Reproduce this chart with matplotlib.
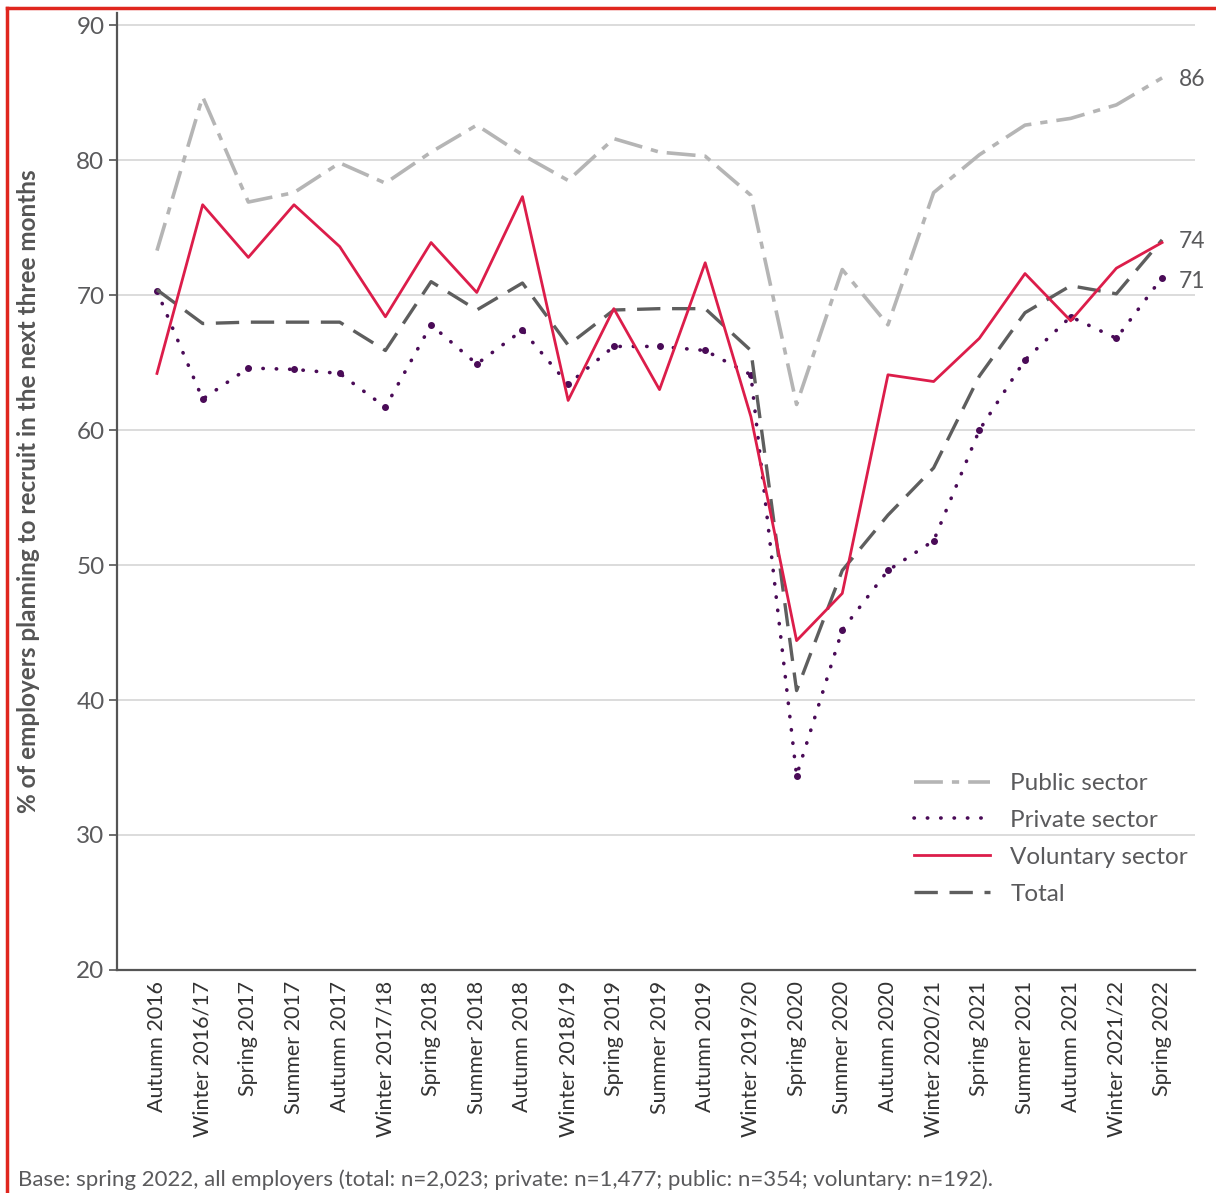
import numpy as np
import matplotlib
matplotlib.use('Agg')
import matplotlib.pyplot as plt
from matplotlib.lines import Line2D

plt.rcParams['font.family'] = ['Lato', 'DejaVu Sans']

periods = ['Autumn 2016', 'Winter 2016/17', 'Spring 2017', 'Summer 2017', 'Autumn 2017',
           'Winter 2017/18', 'Spring 2018', 'Summer 2018', 'Autumn 2018', 'Winter 2018/19',
           'Spring 2019', 'Summer 2019', 'Autumn 2019', 'Winter 2019/20', 'Spring 2020',
           'Summer 2020', 'Autumn 2020', 'Winter 2020/21', 'Spring 2021', 'Summer 2021',
           'Autumn 2021', 'Winter 2021/22', 'Spring 2022']

public = [73.3, 84.7, 76.9, 77.6, 79.8, 78.3, 80.6, 82.6, 80.4, 78.5, 81.6, 80.6,
          80.3, 77.4, 61.9, 71.9, 67.8, 77.6, 80.4, 82.6, 83.1, 84.1, 86.1]
private = [70.3, 62.3, 64.6, 64.5, 64.2, 61.7, 67.8, 64.9, 67.4, 63.4, 66.2, 66.2,
           65.9, 64.1, 34.4, 45.2, 49.6, 51.8, 60.0, 65.2, 68.4, 66.8, 71.3]
voluntary = [64.2, 76.7, 72.8, 76.7, 73.6, 68.4, 73.9, 70.2, 77.3, 62.2, 69.0, 63.0,
             72.4, 61.0, 44.4, 47.9, 64.1, 63.6, 66.8, 71.6, 68.1, 72.0, 73.9]
total = [70.4, 67.9, 68.0, 68.0, 68.0, 65.9, 71.0, 68.9, 70.9, 66.3, 68.9, 69.0,
         69.0, 65.9, 40.7, 49.6, 53.7, 57.2, 64.0, 68.7, 70.7, 70.1, 74.1]
end_labels = ['86', '74', '71']

c_public = '#b5b5b5'
c_private = '#4a0b57'
c_vol = '#dc1d4a'
c_total = '#5e5e5e'
c_text = '#5a5a5c'

fig = plt.figure(figsize=(12.16, 11.93), dpi=100)
ax = fig.add_axes([0.0962, 0.187, 0.8865, 0.802])

x = np.arange(len(periods))

ax.plot(x, public, color=c_public, lw=2.6, linestyle=(0, (8, 2.5, 2, 2.5)),
        label='Public sector', zorder=3)
ax.plot(x, private, color=c_private, lw=2.6, linestyle=(0, (0.1, 3.6)),
        dash_capstyle='round', label='Private sector', zorder=4)
ax.plot(x, private, color=c_private, lw=0, marker='o', ms=4, zorder=4)
ax.plot(x, voluntary, color=c_vol, lw=2.0, label='Voluntary sector', zorder=5)
ax.plot(x, total, color=c_total, lw=2.4, linestyle=(0, (7, 3.5)),
        label='Total', zorder=4)

# values at the last survey point
for vals, lab in zip([public, total, private], end_labels):
    ax.annotate(lab, (x[-1], float(lab)), xytext=(17, 0), textcoords='offset pixels',
                ha='left', va='center', fontsize=16.5, color=c_text)

ax.set_xlim(-0.875, len(periods) - 1 + 0.72)
ax.set_ylim(20, 90.9)
ax.set_yticks(np.arange(20, 91, 10))
ax.yaxis.grid(True, color='#d9d9d9', lw=1.3)
ax.set_axisbelow(True)

ax.set_xticks(x)
ax.set_xticklabels(periods, rotation=90, fontsize=15.5, color='#333333')
ax.tick_params(axis='x', length=0, pad=8)
ax.tick_params(axis='y', length=6, width=1.2, colors='#555555', labelsize=17.5,
               labelcolor=c_text, pad=3)

for s in ['top', 'right']:
    ax.spines[s].set_visible(False)
ax.spines['left'].set_color('#555555')
ax.spines['left'].set_linewidth(1.6)
ax.spines['bottom'].set_color('#555555')
ax.spines['bottom'].set_linewidth(1.6)

ax.set_ylabel('% of employers planning to recruit in the next three months',
              fontsize=17.5, fontweight='bold', color='#555555', labelpad=26)

handles, labels = ax.get_legend_handles_labels()
leg = fig.legend(handles, labels, loc='upper left', bbox_to_anchor=(0.752, 0.352),
                 frameon=False, fontsize=17.5, handlelength=3.1, handletextpad=0.85,
                 labelspacing=0.65, borderpad=0, borderaxespad=0)
for t in leg.get_texts():
    t.set_color(c_text)

fig.text(0.015, 0.006, 'Base: spring 2022, all employers (total: n=2,023; private: n=1,477; '
         'public: n=354; voluntary: n=192).', fontsize=16, color=c_text)

# red frame along the top and left edges
fig.add_artist(Line2D([0.0055, 0.0055], [0.0, 0.9935], color='#e0261e', lw=2.5))
fig.add_artist(Line2D([0.0055, 1.0], [0.9935, 0.9935], color='#e0261e', lw=2.5))

fig.savefig('out.png', dpi=100)
